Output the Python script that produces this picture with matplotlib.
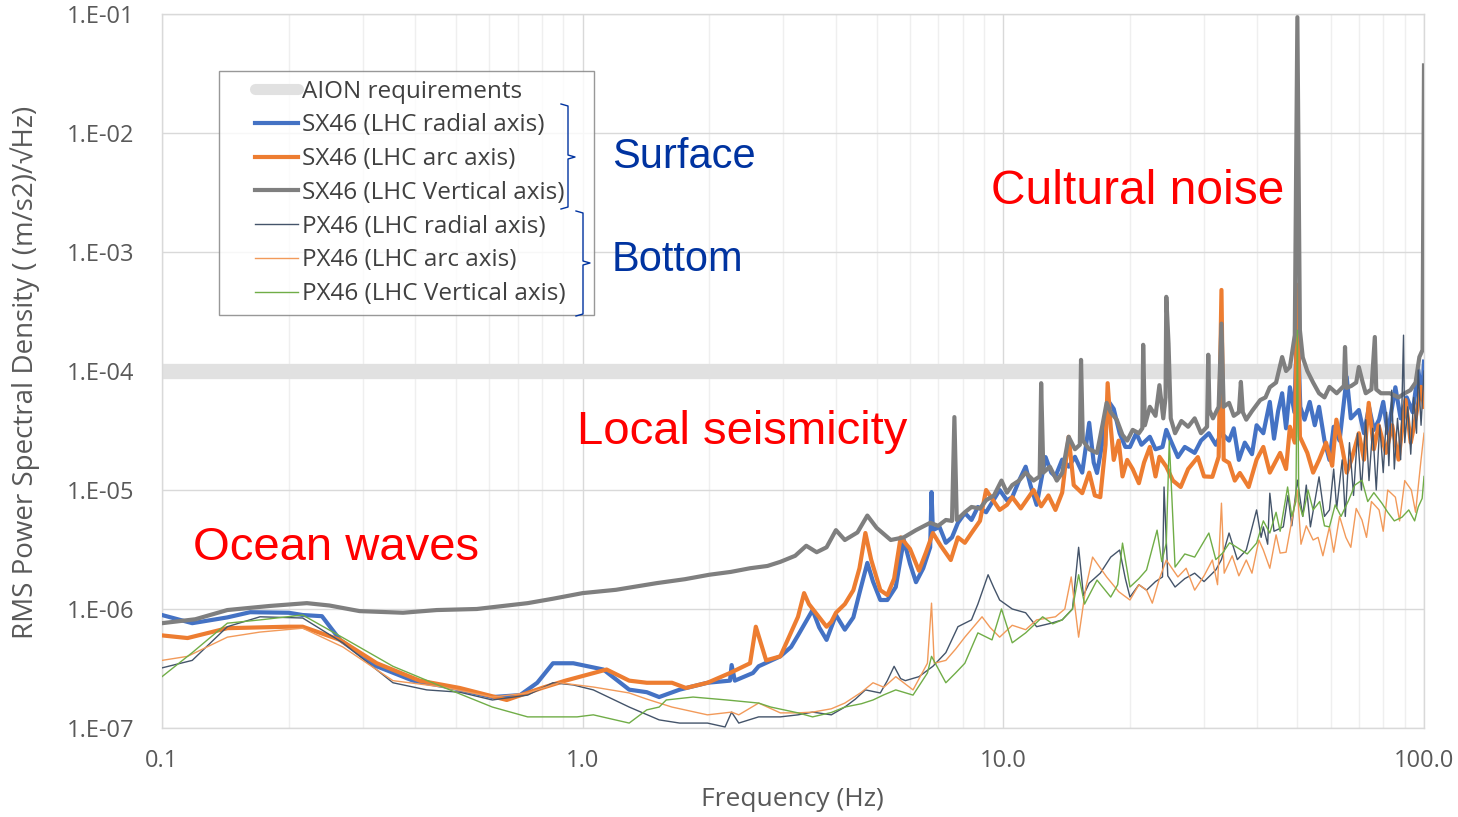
import matplotlib
matplotlib.use("Agg")
import matplotlib.pyplot as plt
from matplotlib.lines import Line2D
from matplotlib.legend_handler import HandlerLine2D
from matplotlib.ticker import FixedLocator, NullFormatter, LogLocator

plt.rcParams['font.family'] = ['Open Sans', 'DejaVu Sans']

# ---------------- data ----------------
aion_f = [0.1, 100.0]
aion_v = [1.0e-4, 1.0e-4]

sx_radial_f = [0.1, 0.118, 0.143, 0.162, 0.2, 0.216, 0.24, 0.265, 0.324, 0.395, 0.483, 0.61, 0.71, 0.78,
               0.85, 0.95, 1.12, 1.29, 1.42, 1.52, 1.7, 1.98, 2.24, 2.26, 2.3, 2.54, 2.62, 2.95, 3.13, 3.25,
               3.52, 3.65, 3.8, 4.0, 4.2, 4.4, 4.55, 4.75, 4.9, 5.1, 5.3, 5.55, 5.8, 6.0, 6.2, 6.45, 6.7,
               6.75, 6.8, 7.05, 7.3, 7.55, 7.8, 8.1, 8.4, 8.7, 9.1, 9.8, 10.2, 10.5, 10.9, 11.3, 11.6, 12.0,
               12.3, 12.6, 13.0, 13.3, 13.8, 14.3, 14.8, 15.4, 16.0, 16.4, 16.7, 17.2, 17.7, 18.3, 18.9,
               19.5, 20.0, 20.7, 21.3, 22.3, 23.0, 23.9, 24.4, 25.0, 26.0, 27.0, 28.5, 29.5, 30.8, 32.0,
               33.0, 34.4, 35.3, 36.3, 37.5, 39.0, 40.0, 41.5, 43.0, 44.0, 45.0, 46.0, 47.0, 48.0, 49.2,
               50.0, 50.8, 52.0, 53.5, 55.0, 56.3, 58.0, 59.6, 61.0, 63.0, 65.5, 67.0, 70.0, 72.0, 74.0,
               76.0, 78.2, 80.0, 82.0, 85.5, 88.0, 91.0, 94.0, 96.9, 99.0, 100.0]
sx_radial_v = [8.9e-7, 7.6e-7, 8.5e-7, 9.4e-7, 9.3e-7, 8.9e-7, 8.7e-7, 5.5e-7, 3.3e-7, 2.5e-7, 2.2e-7,
               1.82e-7, 1.89e-7, 2.4e-7, 3.5e-7, 3.5e-7, 3.1e-7, 2.1e-7, 2.0e-7, 1.82e-7, 2.1e-7, 2.4e-7,
               2.5e-7, 3.38e-7, 2.5e-7, 2.9e-7, 3.3e-7, 4.0e-7, 4.8e-7, 6.0e-7, 9.8e-7, 7.0e-7, 5.5e-7,
               8.9e-7, 6.7e-7, 8.5e-7, 1.36e-6, 2.44e-6, 1.7e-6, 1.19e-6, 1.19e-6, 1.53e-6, 3.8e-6, 2.4e-6,
               1.68e-6, 2.2e-6, 3.3e-6, 9.6e-6, 4.6e-6, 4.9e-6, 3.6e-6, 4.0e-6, 5.3e-6, 6.4e-6, 5.6e-6,
               7.2e-6, 6.5e-6, 1.0e-5, 8.2e-6, 8.7e-6, 1.2e-5, 1.57e-5, 1.1e-5, 7.5e-6, 1.2e-5, 1.89e-5,
               1.4e-5, 1.3e-5, 1.8e-5, 1.57e-5, 1.9e-5, 1.4e-5, 3.67e-5, 1.7e-5, 1.39e-5, 2.5e-5, 5.7e-5,
               4.8e-5, 3.0e-5, 2.3e-5, 2.3e-5, 3.0e-5, 2.4e-5, 2.8e-5, 2.2e-5, 2.3e-5, 3.2e-5, 2.6e-5,
               1.89e-5, 2.3e-5, 2.05e-5, 2.6e-5, 3.0e-5, 2.4e-5, 3.0e-5, 2.6e-5, 3.3e-5, 1.79e-5, 2.5e-5,
               2.0e-5, 3.5e-5, 3.0e-5, 5.5e-5, 2.7e-5, 4.6e-5, 6.5e-5, 3.3e-5, 7.3e-5, 4.5e-5, 3.0e-4,
               5.0e-5, 3.9e-5, 5.5e-5, 3.5e-5, 5.0e-5, 2.6e-5, 1.79e-5, 3.4e-5, 2.6e-5, 8.9e-5, 4.0e-5,
               4.7e-5, 3.0e-5, 5.0e-5, 3.2e-5, 3.9e-5, 5.5e-5, 3.0e-5, 7.3e-5, 4.0e-5, 6.0e-5, 4.5e-5,
               1.02e-4, 6.0e-5, 1.2e-4]

sx_arc_f = [0.1, 0.115, 0.143, 0.2, 0.216, 0.265, 0.324, 0.41, 0.51, 0.66, 0.8, 0.91, 1.14, 1.29, 1.42,
            1.63, 1.76, 1.98, 2.24, 2.5, 2.58, 2.73, 2.95, 3.05, 3.25, 3.36, 3.45, 3.58, 3.8, 3.9, 4.0,
            4.2, 4.4, 4.55, 4.7, 4.85, 5.1, 5.3, 5.5, 5.7, 6.0, 6.3, 6.55, 6.8, 7.1, 7.5, 7.8, 8.1, 8.4,
            8.8, 9.1, 9.8, 10.2, 10.5, 11.0, 11.8, 12.3, 12.8, 13.3, 13.8, 14.3, 14.7, 15.4, 16.0, 16.5,
            17.0, 17.5, 17.7, 18.0, 18.3, 18.8, 19.2, 19.7, 20.3, 21.0, 21.6, 22.3, 23.0, 23.5, 24.4,
            25.3, 26.4, 27.5, 29.0, 30.0, 31.4, 32.5, 33.0, 33.4, 34.4, 35.5, 36.5, 38.3, 40.0, 41.5,
            43.0, 45.5, 47.0, 48.0, 49.3, 50.0, 50.7, 52.8, 54.5, 56.3, 58.5, 60.5, 61.9, 64.0, 65.5,
            67.2, 70.0, 72.0, 73.9, 76.0, 78.0, 81.2, 84.0, 87.0, 90.4, 93.0, 95.5, 98.4, 100.0]
sx_arc_v = [6.0e-7, 5.7e-7, 6.9e-7, 7.1e-7, 7.1e-7, 5.5e-7, 3.5e-7, 2.5e-7, 2.17e-7, 1.72e-7, 2.17e-7,
            2.5e-7, 3.1e-7, 2.5e-7, 2.4e-7, 2.4e-7, 2.17e-7, 2.4e-7, 2.9e-7, 3.5e-7, 7.1e-7, 3.7e-7,
            4.0e-7, 5.2e-7, 8.6e-7, 1.36e-6, 1.1e-6, 9.3e-7, 7.1e-7, 7.8e-7, 9.3e-7, 1.1e-6, 1.44e-6,
            2.2e-6, 4.35e-6, 2.6e-6, 1.44e-6, 1.31e-6, 1.8e-6, 4.0e-6, 3.2e-6, 2.1e-6, 3.0e-6, 4.35e-6,
            3.4e-6, 2.58e-6, 4.0e-6, 3.6e-6, 4.35e-6, 5.5e-6, 1.0e-5, 6.8e-6, 7.5e-6, 8.7e-6, 7.0e-6,
            1.0e-5, 7.3e-6, 9.0e-6, 6.8e-6, 9.5e-6, 2.8e-5, 1.1e-5, 9.4e-6, 1.4e-5, 9.0e-6, 8.7e-6,
            2.4e-5, 7.9e-5, 3.4e-5, 1.79e-5, 2.6e-5, 1.3e-5, 1.79e-5, 1.5e-5, 1.14e-5, 1.7e-5, 2.3e-5,
            1.3e-5, 1.9e-5, 1.57e-5, 1.2e-5, 1.06e-5, 1.5e-5, 1.89e-5, 1.3e-5, 1.29e-5, 1.9e-5, 4.8e-4,
            1.8e-5, 1.69e-5, 1.2e-5, 1.39e-5, 1.06e-5, 1.8e-5, 2.3e-5, 1.4e-5, 2.05e-5, 1.5e-5, 3.4e-5,
            2.5e-5, 5.3e-4, 2.8e-5, 2.05e-5, 1.4e-5, 1.79e-5, 2.5e-5, 1.6e-5, 3.9e-5, 2.2e-5, 1.4e-5,
            1.79e-5, 3.0e-5, 1.8e-5, 5.4e-5, 2.2e-5, 3.5e-5, 2.05e-5, 3.5e-5, 1.8e-5, 5.7e-5, 2.5e-5,
            4.0e-5, 7.35e-5, 5.0e-5]

sx_vert_f = [0.1, 0.12, 0.143, 0.18, 0.221, 0.25, 0.295, 0.374, 0.45, 0.56, 0.74, 0.85, 1.0, 1.2, 1.5,
             1.75, 2.0, 2.25, 2.5, 2.75, 2.95, 3.2, 3.4, 3.6, 3.8, 4.0, 4.2, 4.5, 4.75, 5.0, 5.4, 5.8,
             6.2, 6.7, 7.0, 7.3, 7.55, 7.65, 7.75, 8.1, 8.4, 8.8, 9.1, 9.5, 9.9, 10.2, 10.5, 10.9, 11.3,
             11.8, 12.2, 12.3, 12.45, 12.9, 13.4, 13.8, 14.3, 14.8, 15.2, 15.3, 15.45, 16.0, 16.7, 17.2,
             17.6, 18.0, 18.6, 19.2, 19.7, 20.3, 21.0, 21.4, 21.5, 21.7, 22.3, 23.0, 23.5, 24.0, 24.3,
             24.4, 24.7, 25.0, 25.6, 26.5, 27.5, 28.5, 29.5, 30.5, 30.7, 30.9, 31.5, 32.5, 33.0, 33.4,
             34.4, 35.3, 36.3, 36.7, 37.1, 37.8, 39.0, 40.8, 42.0, 43.0, 44.5, 46.0, 47.0, 48.0, 49.3,
             50.0, 50.7, 51.5, 52.8, 54.5, 56.3, 58.0, 59.6, 62.0, 64.5, 64.9, 65.4, 67.2, 69.0, 70.0,
             71.5, 72.7, 75.0, 76.4, 77.0, 79.0, 83.0, 87.0, 90.0, 92.8, 95.5, 97.5, 99.2, 100.0]
sx_vert_v = [7.6e-7, 8.2e-7, 9.8e-7, 1.06e-6, 1.12e-6, 1.07e-6, 9.6e-7, 9.3e-7, 9.8e-7, 1.0e-6, 1.12e-6,
             1.22e-6, 1.36e-6, 1.45e-6, 1.65e-6, 1.78e-6, 1.94e-6, 2.05e-6, 2.2e-6, 2.3e-6, 2.49e-6,
             2.8e-6, 3.4e-6, 3.0e-6, 3.3e-6, 4.6e-6, 3.8e-6, 4.4e-6, 6.1e-6, 4.8e-6, 3.8e-6, 4.0e-6,
             4.6e-6, 5.3e-6, 5.0e-6, 5.6e-6, 5.5e-6, 4.1e-5, 5.6e-6, 6.5e-6, 7.2e-6, 7.0e-6, 8.2e-6,
             9.0e-6, 1.2e-5, 9.5e-6, 1.1e-5, 1.2e-5, 1.4e-5, 1.2e-5, 1.3e-5, 7.9e-5, 1.4e-5, 1.57e-5,
             1.2e-5, 1.39e-5, 2.8e-5, 2.2e-5, 2.4e-5, 1.24e-4, 2.6e-5, 2.2e-5, 2.05e-5, 3.5e-5, 5.4e-5,
             4.5e-5, 3.9e-5, 2.9e-5, 2.6e-5, 3.2e-5, 3.0e-5, 3.3e-5, 1.66e-4, 3.5e-5, 5.0e-5, 4.2e-5,
             7.6e-5, 4.0e-5, 6.0e-5, 4.2e-4, 1.7e-4, 4.0e-5, 3.0e-5, 3.8e-5, 3.4e-5, 4.0e-5, 3.0e-5,
             3.4e-5, 1.37e-4, 4.7e-5, 4.0e-5, 5.0e-5, 2.5e-4, 5.0e-5, 5.4e-5, 4.2e-5, 4.5e-5, 8.1e-5,
             4.5e-5, 3.9e-5, 4.6e-5, 5.7e-5, 6.0e-5, 7.3e-5, 8.0e-5, 1.31e-4, 1.0e-4, 1.08e-4, 2.0e-4,
             9.4e-2, 2.2e-4, 1.3e-4, 1.0e-4, 8.0e-5, 6.5e-5, 6.0e-5, 7.35e-5, 6.5e-5, 7.5e-5, 1.59e-4,
             7.2e-5, 7.5e-5, 8.0e-5, 1.08e-4, 8.0e-5, 6.5e-5, 7.0e-5, 1.93e-4, 7.0e-5, 6.5e-5, 6.5e-5,
             6.0e-5, 6.5e-5, 6.9e-5, 8.0e-5, 1.31e-4, 1.5e-4, 3.7e-2]

px_radial_f = [0.1, 0.118, 0.143, 0.171, 0.216, 0.269, 0.354, 0.426, 0.51, 0.61, 0.74, 0.85, 0.95, 1.06,
               1.29, 1.52, 1.7, 1.98, 2.18, 2.26, 2.35, 2.62, 2.95, 3.25, 3.52, 3.9, 4.2, 4.45, 4.7, 5.1,
               5.3, 5.5, 5.7, 5.85, 6.3, 6.8, 7.3, 7.8, 8.4, 8.7, 9.2, 9.5, 9.8, 10.5, 11.3, 12.0, 13.0,
               13.8, 14.6, 15.1, 15.5, 16.0, 17.0, 18.0, 18.9, 19.5, 20.0, 21.0, 21.9, 23.0, 23.9, 24.1,
               24.6, 25.6, 27.0, 28.5, 30.0, 32.0, 33.0, 34.4, 36.0, 37.8, 40.0, 41.0, 41.5, 42.5, 43.0,
               44.0, 46.3, 47.5, 48.5, 50.0, 51.5, 52.5, 53.7, 55.0, 56.3, 58.0, 59.6, 61.0, 62.0, 63.9,
               65.0, 66.5, 68.0, 69.5, 71.0, 72.7, 74.0, 75.5, 77.0, 78.5, 80.0, 81.5, 82.5, 83.8, 85.0,
               86.5, 88.0, 89.4, 90.0, 91.5, 93.0, 94.5, 96.0, 96.9, 98.4, 100.0]
px_radial_v = [3.2e-7, 3.7e-7, 7.1e-7, 8.6e-7, 8.4e-7, 5.2e-7, 2.4e-7, 2.09e-7, 2.0e-7, 1.72e-7, 1.89e-7,
               2.4e-7, 2.3e-7, 2.09e-7, 1.5e-7, 1.17e-7, 1.1e-7, 1.1e-7, 1.02e-7, 1.36e-7, 1.1e-7, 1.24e-7,
               1.24e-7, 1.29e-7, 1.36e-7, 1.29e-7, 1.5e-7, 1.75e-7, 2.09e-7, 1.97e-7, 2.5e-7, 3.3e-7,
               2.6e-7, 2.5e-7, 2.7e-7, 3.3e-7, 4.3e-7, 7.1e-7, 8.1e-7, 1.1e-6, 1.94e-6, 1.5e-6, 1.19e-6,
               1.0e-6, 9.3e-7, 7.1e-7, 7.6e-7, 8.1e-7, 1.0e-6, 3.3e-6, 1.3e-6, 1.65e-6, 2.0e-6, 2.73e-6,
               3.13e-6, 1.8e-6, 1.26e-6, 1.6e-6, 1.44e-6, 1.7e-6, 1.86e-6, 1.06e-5, 1.9e-6, 1.53e-6,
               1.8e-6, 2.0e-6, 1.7e-6, 2.13e-6, 2.6e-6, 4.35e-6, 2.6e-6, 3.13e-6, 6.8e-6, 4.0e-6, 4.9e-6,
               3.5e-6, 9.4e-6, 4.5e-6, 4.9e-6, 9.0e-6, 5.0e-6, 1.21e-5, 6.0e-6, 1.1e-5, 4.9e-6, 8.0e-6,
               1.29e-5, 6.0e-6, 6.8e-6, 1.5e-5, 7.0e-6, 1.79e-5, 6.0e-6, 2.5e-5, 9.0e-6, 3.0e-5, 1.0e-5,
               3.9e-5, 1.2e-5, 3.3e-5, 1.0e-5, 3.5e-5, 1.4e-5, 4.5e-5, 1.6e-5, 6.9e-5, 1.5e-5, 4.0e-5,
               1.8e-5, 2.0e-4, 2.5e-5, 5.0e-5, 2.0e-5, 6.0e-5, 3.0e-5, 1.02e-4, 3.5e-5, 1.0e-4]

px_arc_f = [0.1, 0.115, 0.143, 0.171, 0.216, 0.269, 0.354, 0.465, 0.61, 0.74, 0.88, 1.06, 1.29, 1.42,
            1.63, 1.98, 2.26, 2.35, 2.62, 2.95, 3.25, 3.52, 3.9, 4.2, 4.6, 4.9, 5.2, 5.55, 6.1, 6.6, 6.75,
            6.85, 7.3, 7.7, 8.1, 8.9, 9.3, 9.8, 10.5, 11.3, 12.0, 13.3, 14.0, 14.5, 15.1, 15.7, 16.3,
            17.6, 18.8, 20.0, 21.0, 21.9, 22.6, 23.5, 24.4, 26.0, 27.2, 28.5, 30.0, 31.4, 32.3, 33.0,
            33.5, 35.0, 36.3, 37.8, 39.0, 40.5, 41.5, 43.0, 44.5, 45.5, 47.0, 48.5, 50.0, 51.0, 52.5,
            54.5, 56.0, 57.5, 59.6, 61.0, 63.0, 65.2, 67.0, 69.0, 71.2, 73.0, 75.0, 78.2, 80.0, 82.0,
            85.5, 87.5, 90.0, 93.3, 95.5, 98.4, 100.0]
px_arc_v = [3.7e-7, 4.0e-7, 5.8e-7, 6.4e-7, 6.9e-7, 4.8e-7, 2.5e-7, 2.21e-7, 1.82e-7, 1.97e-7, 2.4e-7,
            2.21e-7, 1.97e-7, 1.75e-7, 1.5e-7, 1.29e-7, 1.36e-7, 1.29e-7, 1.62e-7, 1.34e-7, 1.34e-7,
            1.36e-7, 1.45e-7, 1.62e-7, 2.0e-7, 2.4e-7, 2.2e-7, 2.7e-7, 2.09e-7, 3.5e-7, 1.12e-6, 3.5e-7,
            3.7e-7, 4.6e-7, 5.8e-7, 8.6e-7, 7.0e-7, 5.8e-7, 7.3e-7, 6.7e-7, 8.1e-7, 8.6e-7, 1.0e-6,
            1.86e-6, 5.8e-7, 1.5e-6, 2.73e-6, 1.86e-6, 1.4e-6, 1.19e-6, 1.6e-6, 1.44e-6, 1.12e-6, 1.8e-6,
            2.58e-6, 1.86e-6, 2.2e-6, 1.44e-6, 1.9e-6, 2.58e-6, 1.6e-6, 7.75e-6, 2.0e-6, 2.8e-6, 1.9e-6,
            2.58e-6, 2.0e-6, 3.8e-6, 3.13e-6, 2.2e-6, 4.2e-6, 2.95e-6, 3.0e-6, 5.5e-6, 1.0e-5, 3.5e-6,
            5.0e-6, 3.8e-6, 4.0e-6, 2.8e-6, 4.9e-6, 3.0e-6, 6.0e-6, 4.0e-6, 3.3e-6, 7.0e-6, 5.6e-6,
            4.0e-6, 8.0e-6, 6.8e-6, 4.5e-6, 1.0e-5, 8.7e-6, 5.5e-6, 1.2e-5, 1.0e-5, 6.5e-6, 1.8e-5,
            3.0e-5]

px_vert_f = [0.1, 0.118, 0.143, 0.171, 0.216, 0.275, 0.354, 0.465, 0.61, 0.74, 0.97, 1.06, 1.29, 1.42,
             1.52, 1.58, 1.83, 2.2, 2.62, 2.8, 3.25, 3.52, 3.9, 4.2, 4.6, 4.9, 5.2, 5.55, 6.1, 6.6, 6.75,
             7.3, 7.7, 8.1, 8.7, 9.4, 9.9, 10.5, 11.3, 12.4, 13.1, 13.8, 14.6, 15.1, 15.6, 16.7, 18.0,
             18.7, 19.2, 20.0, 21.0, 21.9, 23.2, 23.8, 24.4, 24.8, 25.6, 27.0, 28.5, 30.8, 32.0, 33.2,
             34.5, 35.8, 38.0, 40.0, 41.5, 43.0, 44.5, 45.5, 47.4, 48.5, 49.6, 50.0, 50.4, 51.5, 53.0,
             54.5, 56.5, 58.0, 59.6, 61.5, 63.5, 66.2, 68.5, 71.2, 73.5, 76.0, 79.4, 82.0, 85.0, 88.6,
             92.0, 95.0, 96.9, 99.0, 100.0]
px_vert_v = [2.7e-7, 4.3e-7, 7.6e-7, 8.1e-7, 8.9e-7, 5.5e-7, 3.3e-7, 2.21e-7, 1.5e-7, 1.24e-7, 1.24e-7,
             1.29e-7, 1.1e-7, 1.42e-7, 1.5e-7, 1.72e-7, 1.82e-7, 1.72e-7, 1.62e-7, 1.5e-7, 1.34e-7,
             1.24e-7, 1.35e-7, 1.5e-7, 1.6e-7, 1.72e-7, 1.9e-7, 2.09e-7, 1.89e-7, 2.9e-7, 4.0e-7, 2.4e-7,
             2.9e-7, 3.5e-7, 6.3e-7, 5.5e-7, 1.0e-6, 5.2e-7, 6.3e-7, 8.6e-7, 7.5e-7, 8.1e-7, 1.0e-6,
             1.94e-6, 1.1e-6, 1.75e-6, 1.26e-6, 1.6e-6, 3.58e-6, 1.53e-6, 1.8e-6, 2.13e-6, 4.6e-6, 2.5e-6,
             3.58e-6, 2.6e-5, 2.25e-6, 2.9e-6, 2.73e-6, 4.35e-6, 2.6e-6, 2.95e-6, 3.6e-6, 3.32e-6, 2.9e-6,
             3.58e-6, 5.5e-6, 4.35e-6, 6.5e-6, 4.5e-6, 1.06e-5, 6.0e-6, 8.0e-6, 2.2e-4, 8.0e-6, 6.0e-6,
             1.0e-5, 6.8e-6, 8.0e-6, 5.0e-6, 4.9e-6, 7.5e-6, 6.0e-6, 8.2e-6, 1.1e-5, 1.21e-5, 8.0e-6,
             9.5e-6, 7.75e-6, 6.5e-6, 5.5e-6, 5.9e-6, 6.8e-6, 5.5e-6, 7.2e-6, 8.5e-6, 1.3e-5]

x_ticks = [0.1, 1.0, 10.0, 100.0]
x_tick_labels = ["0.1", "1.0", "10.0", "100.0"]
y_ticks = [1e-7, 1e-6, 1e-5, 1e-4, 1e-3, 1e-2, 1e-1]
y_tick_labels = ["1.E-07", "1.E-06", "1.E-05", "1.E-04", "1.E-03", "1.E-02", "1.E-01"]

labels = ["AION requirements", "SX46 (LHC radial axis)", "SX46 (LHC arc axis)",
          "SX46 (LHC Vertical axis)", "PX46 (LHC radial axis)", "PX46 (LHC arc axis)",
          "PX46 (LHC Vertical axis)"]
colors = ["#E1E1E1", "#4472C4", "#ED7D31", "#7F7F7F", "#44546A", "#F29A5A", "#70AD47"]

# ---------------- figure ----------------
W, H = 1458, 817
fig = plt.figure(figsize=(W / 100, H / 100), dpi=100)
ax = fig.add_axes([162 / W, 1 - 728 / H, (1424 - 162) / W, (728 - 14) / H])
ax.set_xscale("log")
ax.set_yscale("log")
ax.set_xlim(0.1, 100)
ax.set_ylim(1e-7, 1e-1)

ax.plot(aion_f, aion_v, color=colors[0], lw=11, solid_capstyle="butt", zorder=2)
ax.plot(sx_radial_f, sx_radial_v, color=colors[1], lw=3.0, zorder=3)
ax.plot(sx_arc_f, sx_arc_v, color=colors[2], lw=3.0, zorder=3)
ax.plot(sx_vert_f, sx_vert_v, color=colors[3], lw=3.0, zorder=3)
ax.plot(px_radial_f, px_radial_v, color=colors[4], lw=1.0, zorder=4)
ax.plot(px_arc_f, px_arc_v, color=colors[5], lw=1.0, zorder=4)
ax.plot(px_vert_f, px_vert_v, color=colors[6], lw=1.0, zorder=4)

# grid / ticks
ax.xaxis.set_major_locator(FixedLocator(x_ticks))
ax.xaxis.set_minor_locator(LogLocator(base=10, subs=range(2, 10)))
ax.xaxis.set_minor_formatter(NullFormatter())
ax.set_xticklabels(x_tick_labels)
ax.yaxis.set_major_locator(FixedLocator(y_ticks))
ax.yaxis.set_minor_locator(FixedLocator([]))
ax.set_yticklabels(y_tick_labels)
ax.grid(which="major", color="#D9D9D9", lw=1.0, zorder=0)
ax.grid(which="minor", axis="x", color="#EFEFEF", lw=1.0, zorder=0)
ax.set_axisbelow(True)
for s in ax.spines.values():
    s.set_color("#D9D9D9")
    s.set_linewidth(1.0)
ax.tick_params(which="both", length=0)
ax.tick_params(axis="x", pad=15, labelsize=17, labelcolor="#595959")
ax.tick_params(axis="y", pad=20, labelsize=17, labelcolor="#595959")

ax.set_xlabel("Frequency (Hz)", fontsize=19, color="#595959")
ax.xaxis.set_label_coords((792 - 162) / 1262, (728 - 800) / 714)
ax.set_ylabel("RMS Power Spectral Density ( (m/s2)/\u221aHz)", fontsize=20, color="#595959")
ax.yaxis.set_label_coords((25 - 162) / 1262, (728 - 372) / 714)
ax.yaxis.label.set_va("center")
ax.xaxis.label.set_va("center")

# legend
handles = [Line2D([], [], color=colors[0], lw=8, solid_capstyle="round"),
           Line2D([], [], color=colors[1], lw=3),
           Line2D([], [], color=colors[2], lw=3),
           Line2D([], [], color=colors[3], lw=3),
           Line2D([], [], color=colors[4], lw=1.0),
           Line2D([], [], color=colors[5], lw=1.0),
           Line2D([], [], color=colors[6], lw=1.0)]
lfs = 17.5
lfs_px = lfs * 100 / 72
lx0 = (219 - 162) / 1262
ly1 = (728 - 71) / 714
lw_ = (594 - 219) / 1262
lh_ = (308 - 71) / 714
leg = ax.legend(handles, labels, loc="upper left", bbox_to_anchor=(lx0, ly1 - lh_, lw_, lh_),
                mode="expand", frameon=True, fancybox=False, fontsize=lfs,
                handlelength=70 / lfs_px, handletextpad=4 / lfs_px, labelspacing=0.40,
                borderpad=0.36, borderaxespad=0,
                handler_map={Line2D: HandlerLine2D(xpad=27 / lfs_px)})
leg.get_frame().set_edgecolor("#7F7F7F")
leg.get_frame().set_linewidth(1.0)
for t in leg.get_texts():
    t.set_color("#404040")
leg.set_zorder(10)

# brackets
def axfrac(px, py):
    return (px - 162) / 1262, (728 - py) / 714

bcol = "#0033A0"
b1 = [axfrac(p[0], p[1]) for p in [(561, 104), (568, 106), (568, 155), (575, 157), (568, 159),
                                     (568, 207), (561, 209)]]
b2 = [axfrac(p[0], p[1]) for p in [(576, 211), (583, 213), (583, 261), (590, 263), (583, 265),
                                     (583, 314), (576, 316)]]
for b in (b1, b2):
    ax.plot([p[0] for p in b], [p[1] for p in b], color=bcol, lw=1.0, transform=ax.transAxes,
            clip_on=False, zorder=11)

tf = ["Liberation Sans", "DejaVu Sans"]
ax.text(*axfrac(612, 157), "Surface", color="#0033A0", fontsize=30, family=tf, va="center", ha="left",
        transform=ax.transAxes)
ax.text(*axfrac(612, 260), "Bottom", color="#0033A0", fontsize=30, family=tf, va="center", ha="left",
        transform=ax.transAxes)
ax.text(*axfrac(991, 191), "Cultural noise", color="#FF0000", fontsize=34.5, family=tf, va="center",
        ha="left", transform=ax.transAxes)
ax.text(*axfrac(577, 432), "Local seismicity", color="#FF0000", fontsize=34, family=tf, va="center",
        ha="left", transform=ax.transAxes)
ax.text(*axfrac(193, 548), "Ocean waves", color="#FF0000", fontsize=34, family=tf, va="center",
        ha="left", transform=ax.transAxes)

fig.savefig("out.png", dpi=100)
